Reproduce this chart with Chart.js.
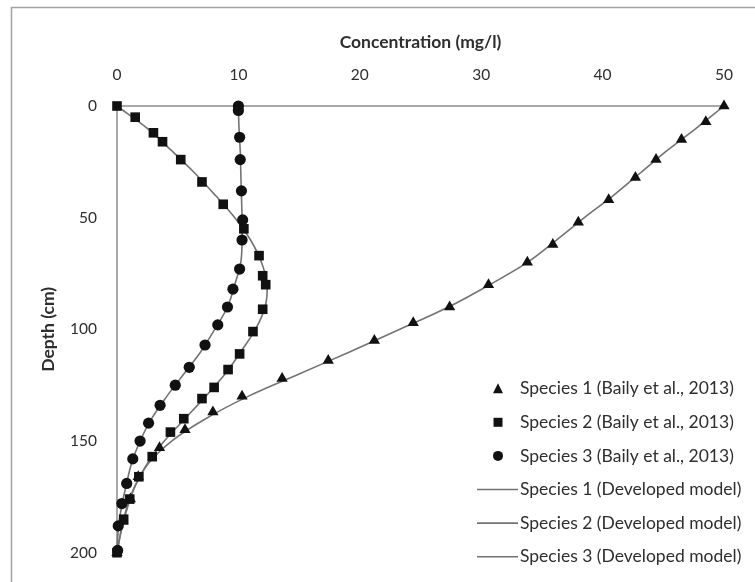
<!DOCTYPE html>
<html>
<head>
<meta charset="utf-8">
<script src="https://cdn.jsdelivr.net/npm/chart.js@4.4.1/dist/chart.umd.min.js"></script>
<style>
  html, body { margin: 0; padding: 0; background: #ffffff; }
  #wrap { width: 755px; height: 582px; position: relative; }
</style>
</head>
<body>
<div id="wrap"><canvas id="chart" width="755" height="582"></canvas></div>
<script>
// Measured profiles (Baily et al., 2013): depth in cm, concentration in mg/l
const depthS1 = [0, 7, 15, 24, 32, 42, 52, 62, 70, 80, 90, 97, 105, 114, 122, 130, 137, 145, 153, 166, 176, 186, 200];
const concS1  = [50, 48.5, 46.5, 44.4, 42.7, 40.5, 38.0, 35.9, 33.8, 30.6, 27.4, 24.4, 21.2, 17.4, 13.6, 10.3, 7.9, 5.6, 3.5, 1.75, 1.1, 0.5, 0];

const depthS2 = [0, 5, 12, 16, 24, 34, 44, 55, 67, 76, 80, 91, 101, 111, 118, 126, 131, 140, 146, 157, 166, 176, 185, 200];
const concS2  = [0, 1.5, 3.0, 3.75, 5.25, 7.0, 8.75, 10.45, 11.7, 12.0, 12.25, 12.0, 11.2, 10.1, 9.15, 8.0, 7.0, 5.5, 4.4, 2.9, 1.8, 1.05, 0.55, 0];

const depthS3 = [0, 2, 14, 24, 38, 51, 60, 73, 82, 90, 98, 107, 117, 125, 134, 142, 150, 158, 169, 178, 188, 199];
const concS3  = [10.0, 10.0, 10.1, 10.15, 10.25, 10.35, 10.3, 10.1, 9.55, 9.1, 8.3, 7.25, 5.95, 4.8, 3.55, 2.6, 1.9, 1.3, 0.8, 0.4, 0.1, 0.05];

// Developed model profiles
const modelDepth = [0, 10, 20, 30, 40, 50, 60, 70, 80, 90, 100, 110, 120, 130, 140, 150, 160, 170, 180, 190, 200];
const modelS1 = [50, 47.7, 45.3, 43.1, 40.9, 38.5, 36.2, 33.8, 30.7, 27.3, 23.3, 19.2, 15.0, 10.8, 7.3, 4.5, 2.6, 1.5, 0.8, 0.35, 0];
const modelS2 = [0, 2.5, 4.5, 6.4, 8.1, 9.7, 11.0, 11.9, 12.35, 12.2, 11.4, 10.2, 8.9, 7.3, 5.6, 3.9, 2.5, 1.5, 0.85, 0.35, 0];
const modelS3 = [10.0, 10.05, 10.15, 10.2, 10.25, 10.3, 10.3, 10.2, 9.7, 9.1, 8.05, 6.9, 5.5, 4.1, 2.85, 1.9, 1.2, 0.75, 0.35, 0.1, 0];

const xTicks = [0, 10, 20, 30, 40, 50];
const yTicks = [0, 50, 100, 150, 200];

const seriesLabels = [
  'Species 1 (Baily et al., 2013)',
  'Species 2 (Baily et al., 2013)',
  'Species 3 (Baily et al., 2013)',
  'Species 1 (Developed model)',
  'Species 2 (Developed model)',
  'Species 3 (Developed model)'
];

const pts = (xs, ys) => xs.map((x, i) => ({ x: x, y: ys[i] }));

const MARK = '#111111';
const LINE = '#737373';
const TEXT = '#2e2e2e';
const FONT = 'Lato, "Open Sans", sans-serif';

function markerSet(label, x, y, style, radius) {
  return {
    label: label, data: pts(x, y), showLine: false, clip: false,
    pointStyle: style, pointRadius: radius, pointHoverRadius: radius,
    backgroundColor: MARK, borderColor: MARK, borderWidth: 0, order: 0
  };
}
function modelSet(label, x, y) {
  return {
    label: label, data: pts(x, y), showLine: true, clip: false,
    pointRadius: 0, borderColor: LINE, borderWidth: 1.6,
    tension: 0.35, fill: false, order: 1
  };
}

// Frame around the whole chart + white background
const framePlugin = {
  id: 'frame',
  beforeDraw(chart) {
    const c = chart.ctx;
    c.save();
    c.fillStyle = '#ffffff';
    c.fillRect(0, 0, chart.width, chart.height);
    c.strokeStyle = '#a2a2a2';
    c.lineWidth = 1.5;
    c.beginPath();
    c.moveTo(11.5, chart.height + 5);
    c.lineTo(11.5, 7.5);
    c.lineTo(chart.width + 5, 7.5);
    c.stroke();
    c.restore();
  }
};

// Legend drawn inside the plot area, lower right
const insideLegend = {
  id: 'insideLegend',
  afterDatasetsDraw(chart) {
    const c = chart.ctx;
    const a = chart.chartArea;
    const markX = a.right - 226;
    const textX = a.right - 204;
    const rowY0 = a.bottom - 164;
    const rowStep = 33.6;
    c.save();
    c.font = '17.5px ' + FONT;
    c.textBaseline = 'middle';
    c.textAlign = 'left';
    chart.data.datasets.forEach((ds, i) => {
      const y = rowY0 + i * rowStep;
      if (ds.showLine) {
        c.strokeStyle = ds.borderColor;
        c.lineWidth = 1.6;
        c.beginPath();
        c.moveTo(markX - 21, y);
        c.lineTo(textX - 2, y);
        c.stroke();
      } else {
        c.fillStyle = MARK;
        c.beginPath();
        if (ds.pointStyle === 'triangle') {
          c.moveTo(markX, y - 5.5);
          c.lineTo(markX + 5, y + 4.5);
          c.lineTo(markX - 5, y + 4.5);
          c.closePath();
        } else if (ds.pointStyle === 'rect') {
          c.rect(markX - 4.5, y - 4.5, 9, 9);
        } else {
          c.arc(markX, y, 5, 0, Math.PI * 2);
        }
        c.fill();
      }
      c.fillStyle = TEXT;
      c.fillText(ds.label, textX, y);
    });
    c.restore();
  }
};

new Chart(document.getElementById('chart'), {
  type: 'scatter',
  data: {
    datasets: [
      markerSet(seriesLabels[0], concS1, depthS1, 'triangle', 6.5),
      markerSet(seriesLabels[1], concS2, depthS2, 'rect', 6.8),
      markerSet(seriesLabels[2], concS3, depthS3, 'circle', 5.6),
      modelSet(seriesLabels[3], modelS1, modelDepth),
      modelSet(seriesLabels[4], modelS2, modelDepth),
      modelSet(seriesLabels[5], modelS3, modelDepth)
    ]
  },
  options: {
    responsive: false,
    animation: false,
    devicePixelRatio: 1,
    layout: { padding: { left: 0, top: 0, right: 30, bottom: 20 } },
    plugins: {
      legend: { display: false },
      tooltip: { enabled: false }
    },
    scales: {
      x: {
        type: 'linear', position: 'top', min: 0, max: 50,
        afterBuildTicks(scale) { scale.ticks = xTicks.map(v => ({ value: v })); },
        afterFit(scale) { scale.height = 106; },
        ticks: { color: TEXT, font: { family: FONT, size: 15.5 }, padding: 22 },
        grid: { display: false, drawTicks: false },
        border: { display: true, color: '#a8a8a8', width: 2 },
        title: {
          display: true, text: 'Concentration (mg/l)', color: TEXT,
          font: { family: FONT, size: 17.5, weight: 'bold' },
          padding: { top: 32, bottom: 0 }
        }
      },
      y: {
        type: 'linear', position: 'left', reverse: true, min: 0, max: 200,
        afterBuildTicks(scale) { scale.ticks = yTicks.map(v => ({ value: v })); },
        afterFit(scale) { scale.width = 117; },
        ticks: { color: TEXT, font: { family: FONT, size: 15.5 }, padding: 20 },
        grid: { display: false, drawTicks: false },
        border: { display: true, color: '#a8a8a8', width: 2 },
        title: {
          display: true, text: 'Depth (cm)', color: TEXT,
          font: { family: FONT, size: 17.5, weight: 'bold' },
          padding: { top: 38, bottom: 0 }
        }
      }
    }
  },
  plugins: [framePlugin, insideLegend]
});
</script>
</body>
</html>
